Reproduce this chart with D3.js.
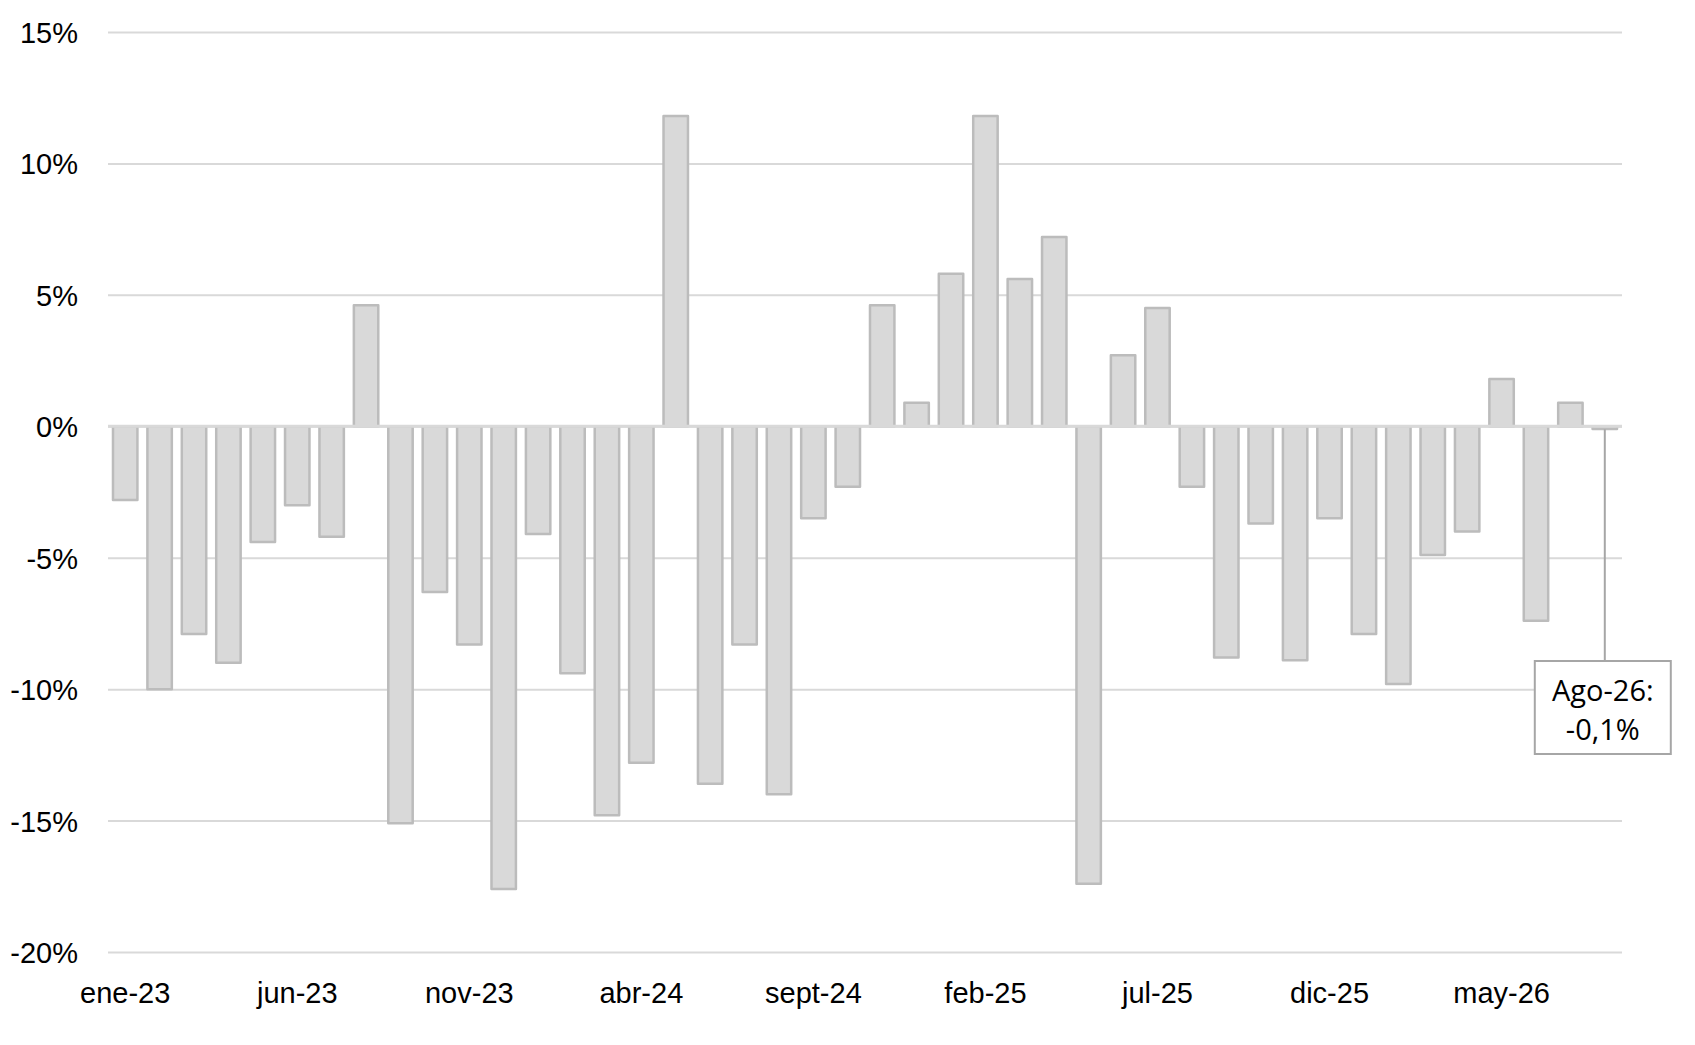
<!DOCTYPE html>
<html>
<head>
<meta charset="utf-8">
<script src="https://cdn.jsdelivr.net/npm/d3@7"></script>
<style>
  body { margin: 0; background: #fff; }
  text { font-family: "Liberation Sans", Arial, sans-serif; fill: #000; }
</style>
</head>
<body>
<div id="chart-area"></div>
<script>
const WIDTH = 1695;
const HEIGHT = 1045;
const MARGIN = { top: 32, right: 73, bottom: 93, left: 108 };

const months = [
  'ene-23', 'feb-23', 'mar-23', 'abr-23', 'may-23', 'jun-23', 'jul-23', 'ago-23', 'sept-23', 'oct-23', 'nov-23', 'dic-23',
  'ene-24', 'feb-24', 'mar-24', 'abr-24', 'may-24', 'jun-24', 'jul-24', 'ago-24', 'sept-24', 'oct-24', 'nov-24', 'dic-24',
  'ene-25', 'feb-25', 'mar-25', 'abr-25', 'may-25', 'jun-25', 'jul-25', 'ago-25', 'sept-25', 'oct-25', 'nov-25', 'dic-25',
  'ene-26', 'feb-26', 'mar-26', 'abr-26', 'may-26', 'jun-26', 'jul-26', 'ago-26'
];

// variacion mensual, %
const values = [
  -2.8, -10.0, -7.9, -9.0, -4.4, -3.0, -4.2, 4.6, -15.1, -6.3, -8.3, -17.6,
  -4.1, -9.4, -14.8, -12.8, 11.8, -13.6, -8.3, -14.0, -3.5, -2.3, 4.6, 0.9,
  5.8, 11.8, 5.6, 7.2, -17.4, 2.7, 4.5, -2.3, -8.8, -3.7, -8.9, -3.5,
  -7.9, -9.8, -4.9, -4.0, 1.8, -7.4, 0.9, -0.1
];

const yTicks = [-20, -15, -10, -5, 0, 5, 10, 15];
const xTickLabels = ['ene-23', 'jun-23', 'nov-23', 'abr-24', 'sept-24', 'feb-25', 'jul-25', 'dic-25', 'may-26'];

const callout = ['Ago-26:', '-0,1%'];

main();

function main() {
  const data = months.map((month, i) => ({ month, value: values[i] }));
  const svg = d3.select('#chart-area').append('svg')
    .attr('width', WIDTH)
    .attr('height', HEIGHT);
  showGraph(svg, data);
}

function showGraph(svg, data) {
  const innerW = WIDTH - MARGIN.left - MARGIN.right;
  const innerH = HEIGHT - MARGIN.top - MARGIN.bottom;

  const scaleY = d3.scaleLinear()
    .domain([-20, 15])
    .range([innerH, 0]);
  const scaleX = d3.scaleBand()
    .domain(data.map(d => d.month))
    .range([0, innerW])
    .paddingInner(0.29)
    .paddingOuter(0.145);

  const g = svg.append('g')
    .attr('transform', `translate(${MARGIN.left}, ${MARGIN.top})`);

  // gridlines + y labels
  const axisLeftCall = d3.axisLeft(scaleY)
    .tickValues(yTicks)
    .tickSize(-innerW)
    .tickPadding(30)
    .tickFormat(d => `${d}%`);
  const yAxis = g.append('g')
    .attr('class', 'y-scale')
    .call(axisLeftCall);
  yAxis.select('.domain').remove();
  yAxis.selectAll('line')
    .attr('stroke', '#d9d9d9')
    .attr('stroke-width', 2);
  yAxis.selectAll('text')
    .attr('font-size', 29)
    .attr('dy', '0.36em');

  const rects = g.selectAll('rect.bar').data(data);
  rects.enter()
    .append('rect')
    .attr('class', 'bar')
    .attr('x', d => scaleX(d.month))
    .attr('y', d => scaleY(Math.max(0, d.value)))
    .attr('width', scaleX.bandwidth())
    .attr('height', d => Math.abs(scaleY(d.value) - scaleY(0)))
    .attr('fill', '#d9d9d9')
    .attr('stroke', '#bcbcbc')
    .attr('stroke-width', 2.5)
    .attr('stroke-linejoin', 'round');

  // zero line over the bars
  g.append('line')
    .attr('x1', 0)
    .attr('x2', innerW)
    .attr('y1', scaleY(0))
    .attr('y2', scaleY(0))
    .attr('stroke', '#d9d9d9')
    .attr('stroke-width', 3);

  const axisBottomCall = d3.axisBottom(scaleX)
    .tickValues(xTickLabels)
    .tickSize(0)
    .tickPadding(30);
  const xAxis = g.append('g')
    .attr('class', 'x-scale')
    .attr('transform', `translate(0, ${innerH})`)
    .call(axisBottomCall);
  xAxis.select('.domain').remove();
  xAxis.selectAll('text')
    .attr('font-size', 29);

  // callout for the last month
  const last = data[data.length - 1];
  const cx = scaleX(last.month) + scaleX.bandwidth() / 2;
  const boxW = 136;
  const boxH = 93;
  const boxX = cx - 70;
  const boxY = 629;

  g.append('line')
    .attr('x1', cx)
    .attr('x2', cx)
    .attr('y1', scaleY(0) + 3)
    .attr('y2', boxY)
    .attr('stroke', '#a6a6a6')
    .attr('stroke-width', 2);

  g.append('rect')
    .attr('x', boxX)
    .attr('y', boxY)
    .attr('width', boxW)
    .attr('height', boxH)
    .attr('fill', '#fff')
    .attr('stroke', '#a6a6a6')
    .attr('stroke-width', 2);

  g.append('text')
    .attr('x', boxX + boxW / 2)
    .attr('y', boxY + 40)
    .attr('text-anchor', 'middle')
    .attr('font-size', 29)
    .style('font-family', '"Open Sans", sans-serif')
    .selectAll('tspan')
    .data(callout)
    .enter()
    .append('tspan')
    .attr('x', boxX + boxW / 2)
    .attr('dy', (d, i) => i === 0 ? 0 : 39)
    .text(d => d);
}
</script>
</body>
</html>
